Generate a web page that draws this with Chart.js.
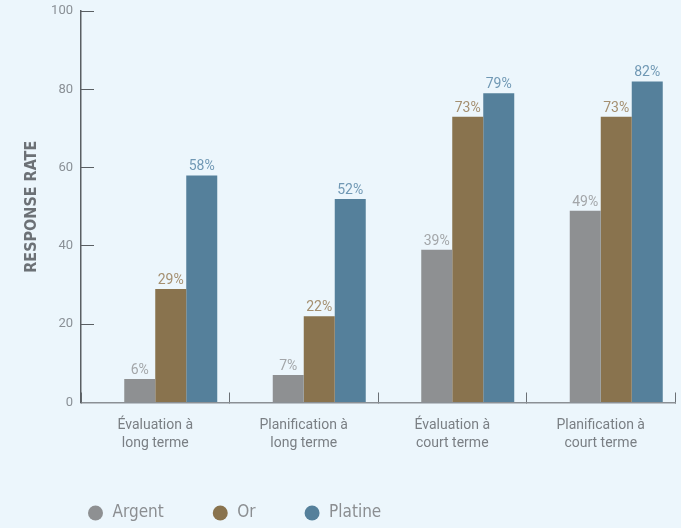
<!DOCTYPE html>
<html>
<head>
<meta charset="utf-8">
<script src="https://cdn.jsdelivr.net/npm/chart.js@4/dist/chart.umd.min.js"></script>
<style>
  html, body { margin: 0; padding: 0; background: #ecf6fc; overflow: hidden; }
  #wrap { width: 681px; height: 528px; }
</style>
</head>
<body>
<div id="wrap"><canvas id="chart" width="681" height="528"></canvas></div>
<script>
// Categories (two-line labels) and response rates (%) per tier
const categories = [
  ['Évaluation à', 'long terme'],
  ['Planification à', 'long terme'],
  ['Évaluation à', 'court terme'],
  ['Planification à', 'court terme']
];
const argent  = [6, 7, 39, 49];
const or      = [29, 22, 73, 73];
const platine = [58, 52, 79, 82];
const spacer  = [null, null, null, null]; // empty slot that pushes each group right
const yTicks  = [0, 20, 40, 60, 80, 100];
const seriesNames = ['Argent', 'Or', 'Platine'];

const condensed = "'Liberation Sans Narrow', 'DejaVu Sans Condensed', 'Roboto', sans-serif";
const body = "'Roboto', 'Liberation Sans', sans-serif";

// Percent labels above each bar, positioned from the bar elements
const valueLabels = {
  id: 'valueLabels',
  afterDatasetsDraw(chart) {
    const ctx = chart.ctx;
    ctx.save();
    ctx.font = '14px ' + body;
    ctx.textAlign = 'center';
    ctx.textBaseline = 'alphabetic';
    chart.data.datasets.forEach((ds, i) => {
      if (!ds.labelColor) return;
      const meta = chart.getDatasetMeta(i);
      meta.data.forEach((bar, j) => {
        const v = ds.data[j];
        if (v == null) return;
        ctx.fillStyle = ds.labelColor;
        ctx.fillText(v + '%', bar.x, bar.y - 5);
      });
    });
    ctx.restore();
  }
};

new Chart(document.getElementById('chart'), {
  type: 'bar',
  data: {
    labels: categories,
    datasets: [
      { label: '', data: spacer, backgroundColor: 'rgba(0,0,0,0)' },
      { label: seriesNames[0], data: argent,  backgroundColor: '#8e9092', labelColor: '#a3a6a9' },
      { label: seriesNames[1], data: or,      backgroundColor: '#89734e', labelColor: '#a48f70' },
      { label: seriesNames[2], data: platine, backgroundColor: '#55809b', labelColor: '#7098b4' }
    ]
  },
  options: {
    responsive: false,
    animation: false,
    events: [],
    layout: { padding: { left: 39, right: 6, top: 0, bottom: -3.5 } },
    datasets: { bar: { categoryPercentage: 0.835, barPercentage: 1.0, borderWidth: 0 } },
    scales: {
      x: {
        type: 'category',
        offset: true,
        grid: { offset: true, drawOnChartArea: false, drawTicks: true, tickLength: -10, color: '#6b7075', lineWidth: 1 },
        border: { color: '#8b9095', width: 1.5 },
        ticks: { padding: 24, color: '#7a7f84', font: { family: body, size: 14, lineHeight: 1.3 } },
        afterFit(s) { s.height = 54; }
      },
      y: {
        min: 0,
        max: 100,
        afterBuildTicks(s) { s.ticks = yTicks.map(v => ({ value: v })); },
        grid: { drawOnChartArea: false, drawTicks: true, tickLength: -13, color: '#5a5f63', lineWidth: 1 },
        border: { color: '#5a5f63', width: 1.5 },
        ticks: { padding: 21, color: '#8a9096', font: { family: body, size: 13 } },
        title: {
          display: true,
          text: 'RESPONSE RATE',
          color: '#6c7176',
          font: { family: condensed, size: 16, weight: 'bold' },
          padding: { top: -16.6, bottom: 0 }
        },
        afterFit(s) {
          s.width = 42;
          // room above the top tick only; tick marks sit inside the plot
          s.paddingTop = 11;
          s.paddingBottom = 0;
        }
      }
    },
    plugins: {
      tooltip: { enabled: false },
      legend: {
        position: 'bottom',
        align: 'start',
        labels: {
          usePointStyle: true,
          pointStyle: 'circle',
          boxWidth: 17.5,
          boxHeight: 10.6,
          padding: 48,
          color: '#8b8e91',
          font: { family: condensed, size: 17 },
          filter: item => item.text !== ''
        }
      }
    }
  },
  plugins: [valueLabels]
});
</script>
</body>
</html>
